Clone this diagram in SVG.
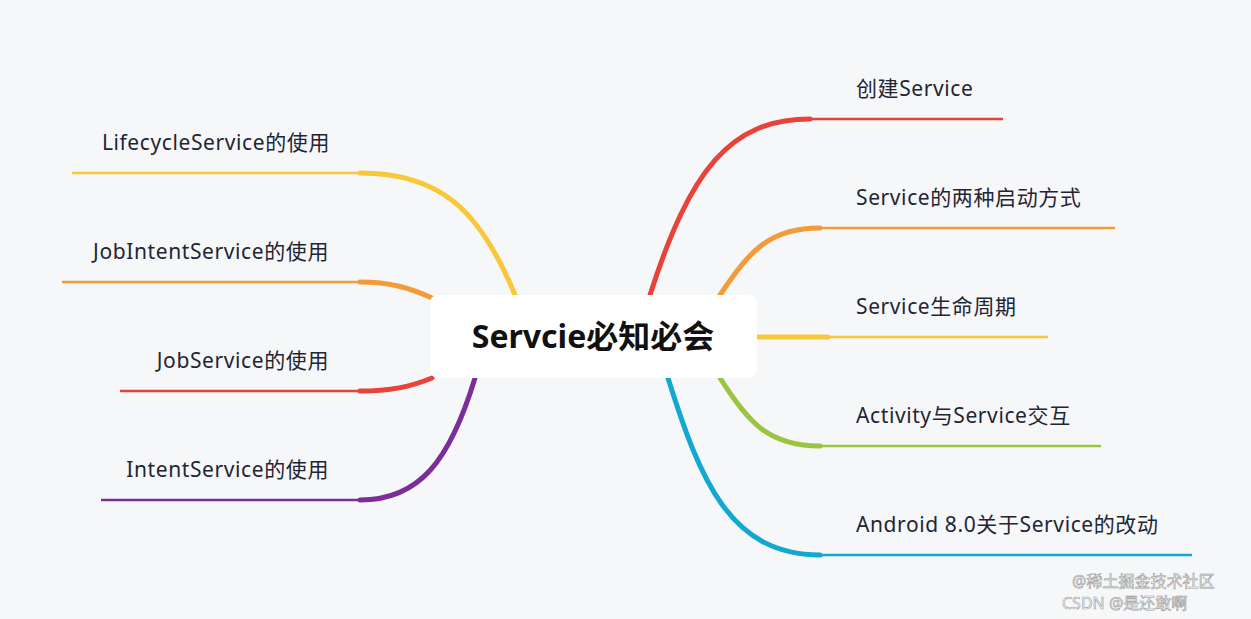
<svg xmlns="http://www.w3.org/2000/svg" width="1251" height="619" viewBox="0 0 1251 619">
<style>
.t{font-family:"Noto Sans","Noto Sans CJK SC",sans-serif;font-size:21px;letter-spacing:0.6px;fill:#1f2533}
.c{fill:none;stroke-width:5;stroke-linecap:round}
.l{fill:none;stroke-width:2.5}
.w{font-family:"Noto Sans","Noto Sans CJK SC",sans-serif;font-size:16px;fill:#fff;stroke:#999;stroke-width:0.6}
</style>
<rect width="1251" height="619" fill="#f6f7f9"/>
<g id="connectors">
<path class="c" stroke="#e8423b" d="M650 295 C690 170 730 119 810 119"/><path class="l" stroke="#e8423b" d="M808 119 H1003"/>
<path class="c" stroke="#f39a3a" d="M720 295 C750 250 770 228 820 228"/><path class="l" stroke="#f39a3a" d="M818 228 H1115"/>
<path class="c" stroke="#f8c73a" d="M757 337 H828"/><path class="l" stroke="#f8c73a" d="M826 337 H1048"/>
<path class="c" stroke="#9bc53f" d="M720 378 C750 425 770 446 820 446"/><path class="l" stroke="#9bc53f" d="M818 446 H1101"/>
<path class="c" stroke="#12a8cf" d="M668 378 C700 480 730 555 820 555"/><path class="l" stroke="#12a8cf" d="M818 555 H1192"/>
<path class="c" stroke="#f8c73a" d="M515 295 C480 210 440 173 360 173"/><path class="l" stroke="#f8c73a" d="M362 173 H72"/>
<path class="c" stroke="#f39a3a" d="M432 298 C410 288 390 282 360 282"/><path class="l" stroke="#f39a3a" d="M362 282 H62"/>
<path class="c" stroke="#e8423b" d="M432 378 C410 387 390 391 360 391"/><path class="l" stroke="#e8423b" d="M362 391 H120"/>
<path class="c" stroke="#7b2d9a" d="M475 378 C450 460 420 500 360 500"/><path class="l" stroke="#7b2d9a" d="M362 500 H101"/>
</g>
<g id="center"><rect x="430" y="295" width="327" height="83" rx="8" fill="#fff"/>
<text x="593" y="348" text-anchor="middle" font-family="Noto Sans,Noto Sans CJK SC,sans-serif" font-size="32" font-weight="bold" fill="#111">Servcie必知必会</text></g>
<g id="r1"><text class="t" x="856" y="96">创建Service</text></g>
<g id="r2"><text class="t" x="856" y="205">Service的两种启动方式</text></g>
<g id="r3"><text class="t" x="856" y="314">Service生命周期</text></g>
<g id="r4"><text class="t" x="856" y="423">Activity与Service交互</text></g>
<g id="r5"><text class="t" x="856" y="532">Android 8.0关于Service的改动</text></g>
<g id="l1"><text class="t" x="330" y="150" text-anchor="end">LifecycleService的使用</text></g>
<g id="l2"><text class="t" x="329" y="259" text-anchor="end">JobIntentService的使用</text></g>
<g id="l3"><text class="t" x="329" y="368" text-anchor="end">JobService的使用</text></g>
<g id="l4"><text class="t" x="329" y="477" text-anchor="end">IntentService的使用</text></g>
<text class="w" x="1072" y="587">@稀土掘金技术社区</text>
<text class="w" x="1062" y="609">CSDN @是还敢啊</text>
</svg>
